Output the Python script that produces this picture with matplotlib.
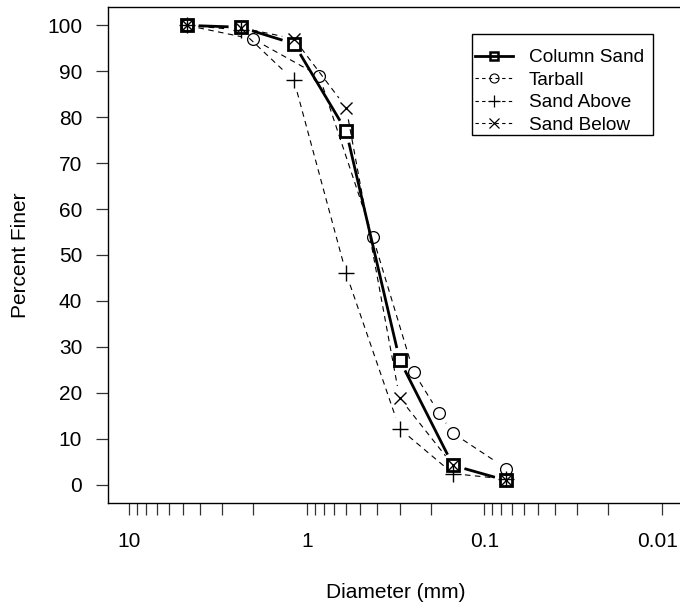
import numpy as np
import matplotlib
matplotlib.use("Agg")
import matplotlib.pyplot as plt
from matplotlib.lines import Line2D
from matplotlib.patches import Rectangle
from matplotlib.transforms import ScaledTranslation

plt.rcParams['font.family'] = ['Liberation Sans', 'DejaVu Sans']
plt.rcParams['font.size'] = 15

# sieve sizes (mm) and percent finer
sieve = [4.75, 2.36, 1.18, 0.6, 0.3, 0.15, 0.075]
column_sand = [100, 99.6, 96, 77, 27.2, 4.2, 0.9]
sand_above = [100, 99, 88, 46, 12.2, 2.4, 1.2]
sand_below = [100, 99.5, 97.1, 82.1, 18.9, 4.2, 0.9]

tarball_sieve = [4.75, 2.0, 0.85, 0.425, 0.25, 0.18, 0.15, 0.075]
tarball = [100, 97, 89, 54, 24.5, 15.6, 11.2, 3.5]

xticks_major = [10, 1, 0.1, 0.01]
xtick_labels = ["10", "1", "0.1", "0.01"]
yticks = [0, 10, 20, 30, 40, 50, 60, 70, 80, 90, 100]
legend_labels = ['Column Sand', 'Tarball', 'Sand Above', 'Sand Below']

W, H, DPI = 680, 606, 100
fig = plt.figure(figsize=(W / DPI, H / DPI), dpi=DPI)
# axes box in pixels: left 108, right 683, top 7, bottom 503
ax = fig.add_axes([108 / W, (H - 503) / H, 575 / W, 496 / H])
ax.set_xscale('log')
ax.set_xlim(10 ** 1.12, 10 ** -2.12)
ax.set_ylim(-4, 104)

GAP = 12  # px gap around points, like R type="b"


def gapped_line(x, y, **kw):
    pts = ax.transData.transform(np.column_stack([x, y]))
    inv = ax.transData.inverted()
    for p, q in zip(pts[:-1], pts[1:]):
        d = q - p
        L = np.hypot(d[0], d[1])
        if L <= 2 * GAP:
            continue
        u = d / L
        a = inv.transform(p + u * GAP)
        b = inv.transform(q - u * GAP)
        ax.plot([a[0], b[0]], [a[1], b[1]], color='black', **kw)


dash = dict(lw=0.8, linestyle=(0, (5, 4)))
gapped_line(tarball_sieve, tarball, **dash)
gapped_line(sieve, sand_above, **dash)
gapped_line(sieve, sand_below, **dash)
gapped_line(sieve, column_sand, lw=2.0, solid_capstyle='butt')

ax.plot(tarball_sieve, tarball, linestyle='none', marker='o', ms=8.5,
        mfc='none', mec='black', mew=0.9)
ax.plot(sieve, sand_above, linestyle='none', marker='+', ms=12,
        mec='black', mew=1.0)
ax.plot(sieve, sand_below, linestyle='none', marker='x', ms=8.5,
        mec='black', mew=1.0)
ax.plot(sieve, column_sand, linestyle='none', marker='s', ms=8,
        mfc='none', mec='black', mew=2.0)

# ticks: every integer multiple inside each decade, labels only on decades
minor = []
for dec in [10, 1, 0.1]:
    for k in range(10, 1, -1):
        minor.append(k * dec / 10)
minor = sorted(set(minor) - set(xticks_major))
ax.set_xticks(xticks_major)
ax.set_xticklabels(xtick_labels)
ax.set_xticks(minor, minor=True)
ax.xaxis.set_minor_formatter(plt.NullFormatter())
ax.set_yticks(yticks)
ax.tick_params(axis='both', which='both', direction='out', length=8.6,
               width=0.9, color='#333333', labelsize=15, pad=10)
ax.tick_params(axis='x', which='major', pad=12.5)

# pull the last label in a little so it stays inside the picture
last = ax.get_xticklabels()[-1]
last.set_transform(last.get_transform() + ScaledTranslation(-4 / DPI, 0, fig.dpi_scale_trans))

for s in ax.spines.values():
    s.set_linewidth(1.0)
    s.set_color('black')

ax.set_xlabel('Diameter (mm)', fontsize=15)
ax.xaxis.set_label_coords((395.5 - 108) / 575, -(593 - 503) / 496)
ax.xaxis.label.set_verticalalignment('center')
ax.set_ylabel('Percent Finer', fontsize=15)
ax.yaxis.set_label_coords(-(108 - 21) / 575, 0.5)
ax.yaxis.label.set_verticalalignment('center')

handles = [
    Line2D([], [], color='black', lw=2.0, marker='s', ms=6, mfc='none', mew=1.8),
    Line2D([], [], color='black', lw=0.8, linestyle=(0, (3, 3)), marker='o', ms=6.5,
           mfc='none', mew=0.8),
    Line2D([], [], color='black', lw=0.8, linestyle=(0, (3, 3)), marker='+', ms=9, mew=0.9),
    Line2D([], [], color='black', lw=0.8, linestyle=(0, (3, 3)), marker='x', ms=6.5, mew=0.9),
]
leg = fig.legend(handles, legend_labels,
                 loc='upper left', bbox_to_anchor=(475 / W, (H - 49) / H),
                 bbox_transform=fig.transFigure, fontsize=13.7, frameon=False,
                 borderpad=0, handlelength=2.0, handletextpad=0.84,
                 labelspacing=0.27, borderaxespad=0)
fig.patches.append(Rectangle((472 / W, (H - 135) / H), 181 / W, 101 / H,
                             transform=fig.transFigure, fill=False,
                             lw=1.0, ec='black'))

fig.savefig('out.png', dpi=DPI)
